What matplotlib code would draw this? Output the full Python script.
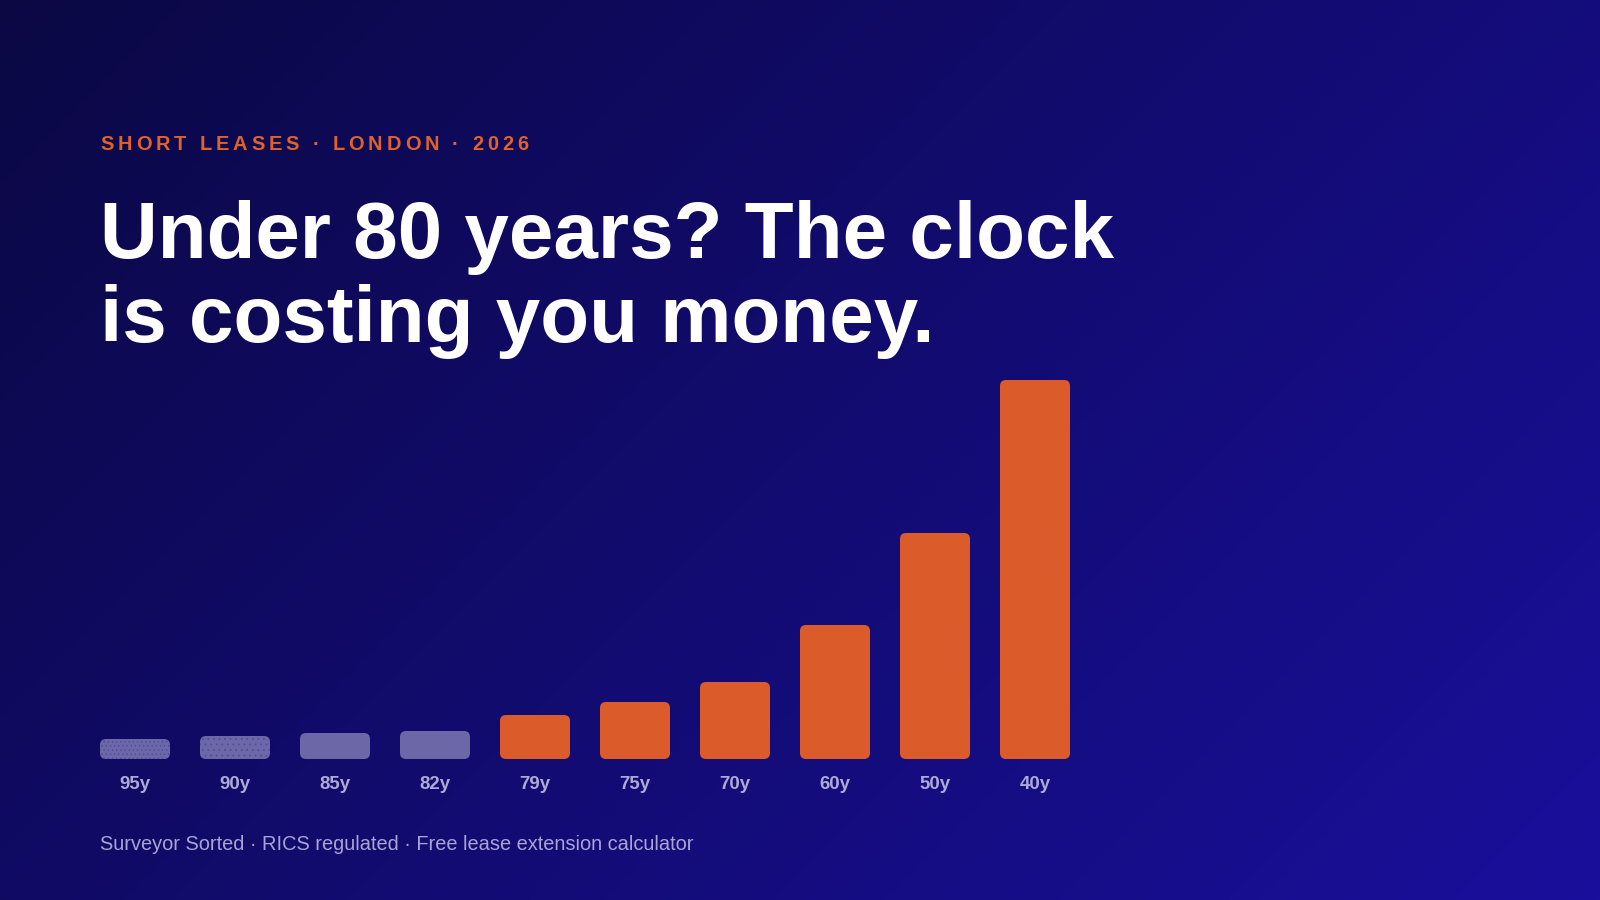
import numpy as np
import matplotlib
matplotlib.use('Agg')
import matplotlib.pyplot as plt
from matplotlib.patches import FancyBboxPatch
from matplotlib.font_manager import FontProperties

# lease length left vs relative cost of extending (bar heights)
lease_years = ['95y', '90y', '85y', '82y', '79y', '75y', '70y', '60y', '50y', '40y']
premium_index = [20, 23, 26, 28, 44, 57, 77, 134, 226, 379]
under_80 = [False, False, False, False, True, True, True, True, True, True]
texture = ['....', '...', None, None, None, None, None, None, None, None]

eyebrow = 'SHORT LEASES \u00b7 LONDON \u00b7 2026'
headline = ['Under 80 years? The clock', 'is costing you money.']
footer = 'Surveyor Sorted \u00b7 RICS regulated \u00b7 Free lease extension calculator'

ORANGE = '#dc5b2b'
GREY = '#6c68a8'
FONT = 'Liberation Sans'

W, H = 1600, 900
fig = plt.figure(figsize=(16, 9), dpi=100)

# diagonal gradient background
bg = fig.add_axes([0, 0, 1, 1])
bg.axis('off')
yy, xx = np.mgrid[0:1:180j, 0:1:320j]
t = np.clip((xx * 16 + yy * 9) / 25, 0, 1)
c0 = np.array([0x0b, 0x08, 0x44]) / 255
c1 = np.array([0x19, 0x0f, 0x9c]) / 255
img = c0[None, None, :] * (1 - t[..., None]) + c1[None, None, :] * t[..., None]
bg.imshow(img, extent=[0, 1, 0, 1], aspect='auto', origin='upper')
bg.set_xlim(0, 1)
bg.set_ylim(0, 1)

# chart axes: 100 px per category, 1 px per unit
ax = fig.add_axes([0, 141 / H, 1, 400 / H])
ax.patch.set_alpha(0)
ax.axis('off')
ax.set_xlim(-1.35, 14.65)
ax.set_ylim(0, 400)

plt.rcParams['hatch.linewidth'] = 0.6
for i, (lab, v) in enumerate(zip(lease_years, premium_index)):
    col = ORANGE if under_80[i] else GREY
    bar = FancyBboxPatch((i - 0.35, 0), 0.7, v,
                         boxstyle='round,pad=0,rounding_size=0.06',
                         mutation_aspect=100, facecolor=col,
                         edgecolor='#524e9c' if texture[i] else col,
                         lw=0, hatch=texture[i])
    ax.add_patch(bar)
    ax.text(i, -30, lab, ha='center', va='baseline', fontsize=13.4,
            fontweight='bold', color='#aeaad6', family=FONT)

# eyebrow with letter spacing
r = fig.canvas.get_renderer()
fp = FontProperties(family=FONT, weight='bold', size=14.4)


def text_width(s):
    w, _, _ = r.get_text_width_height_descent(s + 'H', fp, ismath=False)
    w0, _, _ = r.get_text_width_height_descent('H', fp, ismath=False)
    return w - w0


spacing = 3.9
for k, ch in enumerate(eyebrow):
    x = 100 + text_width(eyebrow[:k]) + k * spacing
    fig.text(x / W, 1 - 150 / H, ch, fontproperties=fp, color='#e0622a',
             ha='left', va='baseline')

# headline
for line, base in zip(headline, [258, 342]):
    fig.text(100 / W, 1 - base / H, line, fontsize=57.6, fontweight='bold',
             color='white', family=FONT, va='baseline')

fig.text(100 / W, 1 - 850 / H, footer, fontsize=14.4, color='#a7a4d6',
         family=FONT, va='baseline')

plt.savefig('out.png', dpi=100)
